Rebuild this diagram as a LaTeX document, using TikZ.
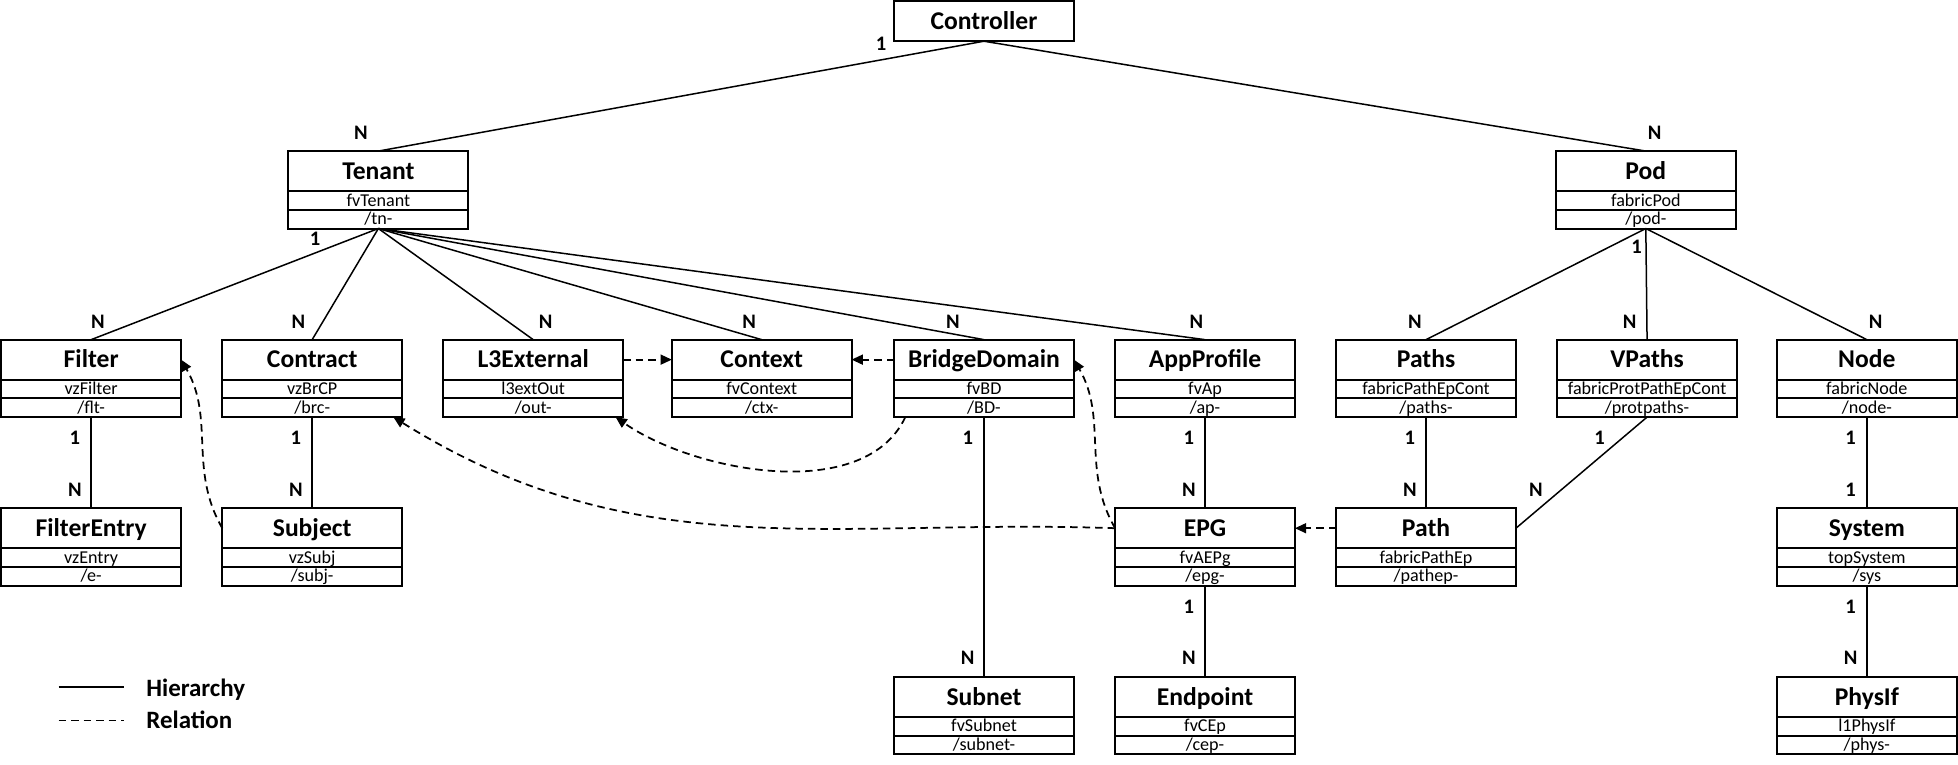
\documentclass[tikz,border=0pt]{standalone}
\usepackage{fontspec}
\setmainfont{Carlito}
\usetikzlibrary{arrows.meta,positioning}

\newcommand{\mobox}[5]{%
  \node[ttlrow] (#1) at (#2) {#3};
  \node[subrow, below=0pt of #1] (#1-c) {#4};
  \node[subrow, below=0pt of #1-c] (#1-p) {#5};}

\begin{document}
\begin{tikzpicture}[x=1pt,y=-1pt,
  ttlrow/.style={draw, line width=1.6pt, minimum width=144pt, minimum height=32pt, inner sep=0pt, outer sep=0pt,
    font=\bfseries\fontsize{20.5}{22}\selectfont, text height=16pt, text depth=2.8pt},
  subrow/.style={draw, line width=1.6pt, minimum width=144pt, minimum height=15pt, inner sep=0pt, outer sep=0pt,
    font=\fontsize{14.5}{16}\selectfont, text height=11pt, text depth=2pt},
  hier/.style={line width=1.2pt},
  rel/.style={line width=1.4pt, dash pattern=on 6pt off 4pt, -{Triangle[length=9pt,width=8pt]}},
  card/.style={font=\bfseries\fontsize{16.5}{18}\selectfont, inner sep=0pt},
  srcm/.style={card, pos=0, xshift=-13, yshift=-17},
  dstm/.style={card, pos=1, xshift=-13, yshift=15},
  legtext/.style={font=\bfseries\fontsize{20}{22}\selectfont, inner sep=0pt, anchor=west, text height=13.5pt, text depth=0.6pt}]
\path[fill=white] (0,0) rectangle (1568,612.6);

\node[ttlrow] (ctl) at (788,17) {Controller};
\mobox{tn}{303,137}{Tenant}{fvTenant}{/tn-}
\mobox{pod}{1318,137}{Pod}{fabricPod}{/pod-}
% first row
\mobox{flt}{73,288}{Filter}{vzFilter}{/flt-}
\mobox{brc}{250,288}{Contract}{vzBrCP}{/brc-}
\mobox{l3out}{427,288}{L3External}{l3extOut}{/out-}
\mobox{ctx}{610,288}{Context}{fvContext}{/ctx-}
\mobox{bd}{788,288}{BridgeDomain}{fvBD}{/BD-}
\mobox{ap}{965,288}{AppProfile}{fvAp}{/ap-}
\mobox{paths}{1142,288}{Paths}{fabricPathEpCont}{/paths-}
\mobox{ppaths}{1319,288}{VPaths}{fabricProtPathEpCont}{/protpaths-}
\mobox{fnode}{1495,288}{Node}{fabricNode}{/node-}
% second row
\mobox{ent}{73,423}{FilterEntry}{vzEntry}{/e-}
\mobox{subj}{250,423}{Subject}{vzSubj}{/subj-}
\mobox{epg}{965,423}{EPG}{fvAEPg}{/epg-}
\mobox{pathep}{1142,423}{Path}{fabricPathEp}{/pathep-}
\mobox{sys}{1495,423}{System}{topSystem}{/sys}
% third row
\mobox{subnet}{788,558}{Subnet}{fvSubnet}{/subnet-}
\mobox{cep}{965,558}{Endpoint}{fvCEp}{/cep-}
\mobox{phys}{1495,558}{PhysIf}{l1PhysIf}{/phys-}

% hierarchy
\draw[hier] (ctl.south) -- node[card,pos=1,xshift=-14,yshift=15]{N} (tn.north);
\draw[hier] (ctl.south) -- node[card,pos=1,xshift=7,yshift=15]{N} (pod.north);
\node[card, left=6pt of ctl.south west, yshift=-2pt] (ctl1) {1};
\node[card, below right=3pt and 17pt of tn-p.south west] (tn1) {1};
\node[card, below left=9pt and 3pt of pod-p.south] (pod1) {1};
\foreach \ch/\dx in {flt/5.5,brc/-11,l3out/10,ctx/-10,bd/-25,ap/-7}
  \draw[hier] (tn-p.south) -- node[card,pos=1,xshift=\dx,yshift=14]{N} (\ch.north);
\foreach \ch/\dx in {paths/-9,ppaths/-14,fnode/7}
  \draw[hier] (pod-p.south) -- node[card,pos=1,xshift=\dx,yshift=14]{N} (\ch.north);
\foreach \src/\dst/\ms/\md in {flt/ent/1/N,brc/subj/1/N,bd/subnet/1/N,ap/epg/1/N,epg/cep/1/N,paths/pathep/1/N,fnode/sys/1/1,sys/phys/1/N}
  \draw[hier] (\src-p.south) -- node[srcm]{\ms} node[dstm]{\md} (\dst.north);
\draw[hier] (ppaths-p.south) -- node[card,pos=0,xshift=-38,yshift=-17]{1} node[card,pos=1,xshift=16,yshift=31]{N} (pathep.east);

% relations
\draw[rel] (l3out.east) -- (ctx.west);
\draw[rel] (bd.west) -- (ctx.east);
\draw[rel] (pathep.west) -- (epg.east);
\draw[rel] (subj.west) to[out=120,in=-60] (flt.east);
\draw[rel] (epg.west) to[out=120,in=-60] (bd.east);
\draw[rel] ([xshift=9pt]bd-p.south west) to[out=-115,in=-35,looseness=0.85] ([xshift=-6pt]l3out-p.south east);
\draw[rel] (epg.west) to[out=178,in=-32] ([xshift=-7pt]brc-p.south east);

% legend
\coordinate (lh0) at (47,550);
\coordinate (lh1) at (99,550);
\coordinate (lr0) at (47,577);
\coordinate (lr1) at (99,577);
\draw[hier] (lh0) -- (lh1);
\draw[rel,-] (lr0) -- (lr1);
\node[legtext] (lh) at (117,551) {Hierarchy};
\node[legtext] (lr) at (117,577) {Relation};
\end{tikzpicture}
\end{document}
